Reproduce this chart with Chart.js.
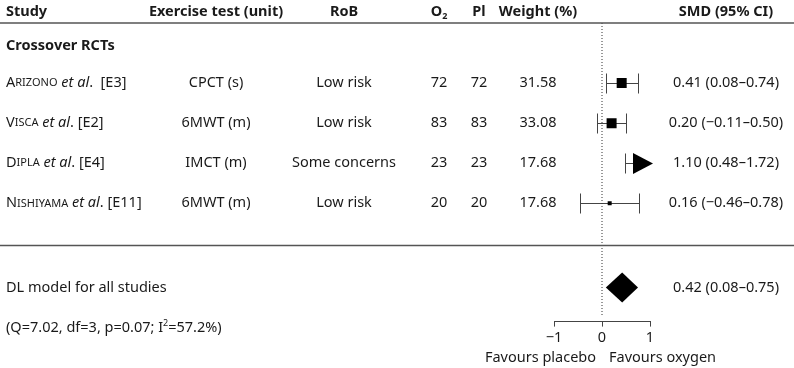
<!DOCTYPE html>
<html>
<head>
<meta charset="utf-8">
<script src="https://cdn.jsdelivr.net/npm/chart.js@4.4.1/dist/chart.umd.min.js"></script>
<style>
  html, body { margin: 0; padding: 0; background: #fff; }
  #wrap { width: 794px; height: 368px; }
</style>
</head>
<body>
<div id="wrap"><canvas id="forest" width="794" height="368"></canvas></div>
<script>
// ---- data ----
const studyNames = ['Arizono', 'Visca', 'Dipla', 'Nishiyama'];
const studyRefs = ['[E3]', '[E2]', '[E4]', '[E11]'];
const exerciseTests = ['CPCT (s)', '6MWT (m)', 'IMCT (m)', '6MWT (m)'];
const riskOfBias = ['Low risk', 'Low risk', 'Some concerns', 'Low risk'];
const nOxygen = [72, 83, 23, 20];
const nPlacebo = [72, 83, 23, 20];
const weights = [31.58, 33.08, 17.68, 17.68];
const smd = [0.41, 0.20, 1.10, 0.16];
const ciLow = [0.08, -0.11, 0.48, -0.46];
const ciHigh = [0.74, 0.50, 1.72, 0.78];
const pooled = [0.42, 0.08, 0.75];          // estimate, low, high
const heterogeneity = { Q: 7.02, df: 3, p: 0.07, I2: 57.2 };
const xTicks = [-1, 0, 1];

// ---- style ----
const FONT = '"Noto Sans"';
const FS = 14.5;
const TXT = '#1a1a1a';
const LINE = '#555555';
const boxSide = [10, 10, 0, 4];   // marker square side in px

const fmt = v => (v < 0 ? '\u2212' : '') + Math.abs(v).toFixed(2);
const ciText = (e, l, h) => `${fmt(e)} (${fmt(l)}\u2013${fmt(h)})`;

// draw a row of text runs with different fonts
function drawRuns(ctx, x, y, runs, align) {
  let total = 0;
  runs.forEach(r => { ctx.font = r.font; r.w = ctx.measureText(r.t).width; total += r.w; });
  let cx = align === 'center' ? x - total / 2 : align === 'right' ? x - total : x;
  ctx.textAlign = 'left';
  runs.forEach(r => {
    ctx.font = r.font;
    ctx.fillText(r.t, cx, y + (r.dy || 0));
    cx += r.w;
  });
}
const f = (size, style) => `${style || ''} ${size}px ${FONT}`;

const forestPlugin = {
  id: 'forest',
  beforeDatasetsDraw(chart) {
    const { ctx, scales: { x, y } } = chart;
    const xMax = x.max;
    ctx.save();
    ctx.strokeStyle = '#444';
    ctx.lineWidth = 1;
    smd.forEach((v, i) => {
      const yc = Math.round(y.getPixelForValue(i + 1)) + 0.5;
      const x0 = Math.round(x.getPixelForValue(ciLow[i])) + 0.5;
      const clipped = ciHigh[i] > xMax;
      let x1;
      if (clipped) {
        const tip = x.getPixelForValue(xMax) + 3;
        x1 = tip - 20;
        ctx.fillStyle = '#000';
        ctx.beginPath();
        ctx.moveTo(tip, yc);
        ctx.lineTo(x1, yc - 10.5);
        ctx.lineTo(x1, yc + 10.5);
        ctx.closePath();
        ctx.fill();
      } else {
        x1 = Math.round(x.getPixelForValue(ciHigh[i])) + 0.5;
      }
      ctx.beginPath();
      ctx.moveTo(x0, yc); ctx.lineTo(x1, yc);
      ctx.moveTo(x0, yc - 10); ctx.lineTo(x0, yc + 10);
      if (!clipped) { ctx.moveTo(x1, yc - 10); ctx.lineTo(x1, yc + 10); }
      ctx.stroke();
    });
    // pooled diamond
    const yd = y.getPixelForValue(6.1);
    ctx.fillStyle = '#000';
    ctx.beginPath();
    ctx.moveTo(x.getPixelForValue(pooled[1]), yd);
    ctx.lineTo(x.getPixelForValue(pooled[0]), yd - 15);
    ctx.lineTo(x.getPixelForValue(pooled[2]), yd);
    ctx.lineTo(x.getPixelForValue(pooled[0]), yd + 15);
    ctx.closePath();
    ctx.fill();
    ctx.restore();
  },
  afterDraw(chart) {
    const { ctx, scales: { x, y } } = chart;
    const W = chart.width;
    ctx.save();
    ctx.fillStyle = TXT;
    ctx.textBaseline = 'middle';

    // rules
    ctx.strokeStyle = LINE;
    ctx.lineWidth = 1.6;
    [-0.5, 5.05].forEach(r => {
      const yy = y.getPixelForValue(r);
      ctx.beginPath(); ctx.moveTo(0, yy); ctx.lineTo(W, yy); ctx.stroke();
    });

    // header
    const yh = y.getPixelForValue(-0.775);
    const B = f(FS, 'bold');
    drawRuns(ctx, 6, yh, [{ t: 'Study', font: B }], 'left');
    drawRuns(ctx, 216, yh, [{ t: 'Exercise test (unit)', font: B }], 'center');
    drawRuns(ctx, 344, yh, [{ t: 'RoB', font: B }], 'center');
    drawRuns(ctx, 439, yh, [{ t: 'O', font: B }, { t: '2', font: f(9, 'bold'), dy: 4 }], 'center');
    drawRuns(ctx, 479, yh, [{ t: 'Pl', font: B }], 'center');
    drawRuns(ctx, 538, yh, [{ t: 'Weight (%)', font: B }], 'center');
    drawRuns(ctx, 726, yh, [{ t: 'SMD (95% CI)', font: B }], 'center');

    drawRuns(ctx, 6, y.getPixelForValue(0.075), [{ t: 'Crossover RCTs', font: B }], 'left');

    const N = f(FS);
    studyNames.forEach((name, i) => {
      const yy = y.getPixelForValue(i + 1);
      drawRuns(ctx, 6, yy, [
        { t: name[0], font: N },
        { t: name.slice(1).toUpperCase(), font: f(11) },
        { t: ' et al', font: f(FS, 'italic') },
        { t: '.' + (i === 0 ? '  ' : ' ') + studyRefs[i], font: N }
      ], 'left');
      drawRuns(ctx, 216, yy, [{ t: exerciseTests[i], font: N }], 'center');
      drawRuns(ctx, 344, yy, [{ t: riskOfBias[i], font: N }], 'center');
      drawRuns(ctx, 439, yy, [{ t: String(nOxygen[i]), font: N }], 'center');
      drawRuns(ctx, 479, yy, [{ t: String(nPlacebo[i]), font: N }], 'center');
      drawRuns(ctx, 538, yy, [{ t: weights[i].toFixed(2), font: N }], 'center');
      drawRuns(ctx, 726, yy, [{ t: ciText(smd[i], ciLow[i], ciHigh[i]), font: N }], 'center');
    });

    const yDL = y.getPixelForValue(6.1);
    drawRuns(ctx, 6, yDL, [{ t: 'DL model for all studies', font: N }], 'left');
    drawRuns(ctx, 726, yDL, [{ t: ciText(pooled[0], pooled[1], pooled[2]), font: N }], 'center');

    const h = heterogeneity;
    drawRuns(ctx, 6, y.getPixelForValue(7.1), [
      { t: `(Q=${h.Q.toFixed(2)}, df=${h.df}, p=${h.p.toFixed(2)}; I`, font: N },
      { t: '2', font: f(9), dy: -4 },
      { t: `=${h.I2.toFixed(1)}%)`, font: N }
    ], 'left');

    const yF = y.getPixelForValue(7.85);
    const x0 = x.getPixelForValue(0);
    drawRuns(ctx, x0 - 6, yF, [{ t: 'Favours placebo', font: N }], 'right');
    drawRuns(ctx, x0 + 7, yF, [{ t: 'Favours oxygen', font: N }], 'left');
    ctx.restore();
  }
};

new Chart(document.getElementById('forest'), {
  type: 'scatter',
  data: {
    datasets: [
      {
        data: smd.map((v, i) => ({ x: v, y: i + 1 })),
        pointStyle: 'rect',
        pointRadius: boxSide.map(s => s * Math.SQRT1_2),
        pointHoverRadius: boxSide.map(s => s * Math.SQRT1_2),
        backgroundColor: '#000',
        borderWidth: 0
      },
      {
        type: 'line',
        data: [{ x: 0, y: -0.5 }, { x: 0, y: 6.8 }],
        borderColor: '#333',
        borderWidth: 1,
        borderDash: [1, 2],
        pointRadius: 0
      }
    ]
  },
  options: {
    responsive: false,
    animation: false,
    events: [],
    layout: { padding: { left: 554, right: 144, top: 23, bottom: 18 } },
    plugins: { legend: { display: false }, tooltip: { enabled: false } },
    scales: {
      x: {
        type: 'linear',
        min: -1,
        max: 1,
        afterBuildTicks: s => { s.ticks = xTicks.map(v => ({ value: v })); },
        grid: { drawOnChartArea: false, drawTicks: true, tickLength: 5, color: '#444' },
        border: { display: true, color: '#444', width: 1 },
        ticks: {
          font: { family: 'Noto Sans', size: FS },
          color: TXT,
          padding: 3,
          maxRotation: 0,
          callback: v => (v < 0 ? '\u2212' + Math.abs(v) : String(v))
        }
      },
      y: { type: 'linear', display: false, reverse: true, min: -0.5, max: 6.95 }
    }
  },
  plugins: [forestPlugin]
});
</script>
</body>
</html>
